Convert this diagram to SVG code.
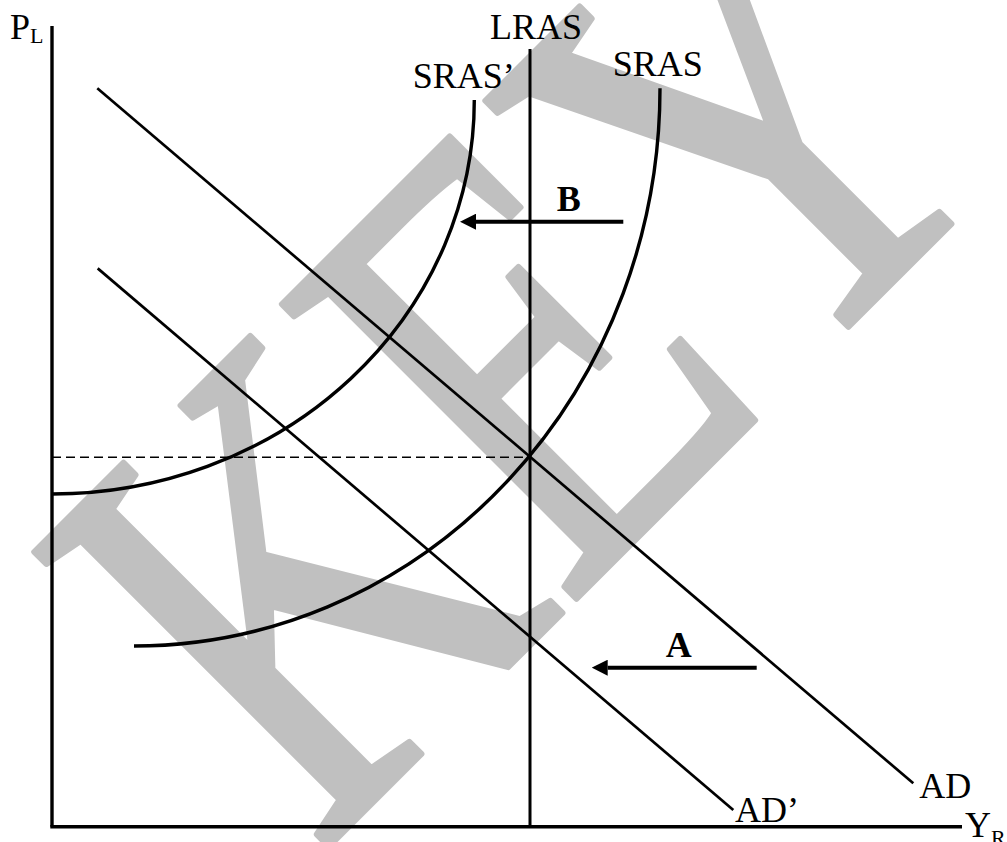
<svg xmlns="http://www.w3.org/2000/svg" width="1007" height="842" viewBox="0 0 1007 842">
<style>
.ax{stroke:#000;stroke-width:3.4;fill:none}
.ln{stroke:#000;stroke-width:2.7;fill:none}
.cv{stroke:#000;stroke-width:3.4;fill:none}
.dash{stroke:#000;stroke-width:1.6;fill:none;stroke-dasharray:9 5}
.arr{stroke:#000;stroke-width:4;fill:none}
.lbl{font-family:"Liberation Serif","Times New Roman",serif;font-size:36px;fill:#000}
.b{font-weight:bold}
.wm{font-family:"Liberation Serif","Times New Roman",serif;fill:#c0c0c0;stroke:#c0c0c0;stroke-width:5;stroke-linejoin:round}
</style>
<defs>
<marker id="ah" markerWidth="16" markerHeight="16" refX="0" refY="8" orient="auto" markerUnits="userSpaceOnUse">
<path d="M0,0 L16,8 L0,16 z" fill="#000"/>
</marker>
</defs>
<rect width="1007" height="842" fill="#fff"/>
<g id="watermark">
<text class="wm" font-size="485" transform="translate(318.4,856.5) rotate(-45) scale(1,1.31)">KEY</text>
</g>
<g id="axes">
<line class="ax" x1="52" y1="26" x2="52" y2="826.7"/>
<line class="ax" x1="50.3" y1="826.7" x2="962" y2="826.7"/>
<text class="lbl" x="10" y="39.3">P<tspan font-size="22" dy="4">L</tspan></text>
<text class="lbl" x="965" y="837">Y<tspan font-size="22" dy="7.5">R</tspan></text>
</g>
<g id="connectors">
<line class="dash" x1="52" y1="457.3" x2="530" y2="457.3"/>
</g>
<g id="lras">
<line class="ln" x1="530" y1="49" x2="530" y2="826.7" style="stroke-width:3"/>
<text class="lbl" x="490" y="39.3">LRAS</text>
</g>
<g id="sras">
<path class="cv" d="M660,88.3 A526,557.7 0 0 1 134,646"/>
<text class="lbl" x="612.7" y="76">SRAS</text>
</g>
<g id="sras-prime">
<path class="cv" d="M474.3,100 A422,394 0 0 1 52,494"/>
<text class="lbl" x="412.7" y="88.3">SRAS’</text>
</g>
<g id="ad">
<line class="ln" x1="97.3" y1="88.3" x2="913.3" y2="783.3"/>
<text class="lbl" x="919.3" y="798.3">AD</text>
</g>
<g id="ad-prime">
<line class="ln" x1="97.7" y1="268.4" x2="733.3" y2="810"/>
<text class="lbl" x="735" y="821.7">AD’</text>
</g>
<g id="arrow-b">
<line class="arr" x1="623.3" y1="221.7" x2="476" y2="221.7" marker-end="url(#ah)"/>
<text class="lbl b" x="556.7" y="211">B</text>
</g>
<g id="arrow-a">
<line class="arr" x1="756.7" y1="667.7" x2="607.7" y2="667.7" marker-end="url(#ah)"/>
<text class="lbl b" x="665.7" y="656.5">A</text>
</g>
</svg>
